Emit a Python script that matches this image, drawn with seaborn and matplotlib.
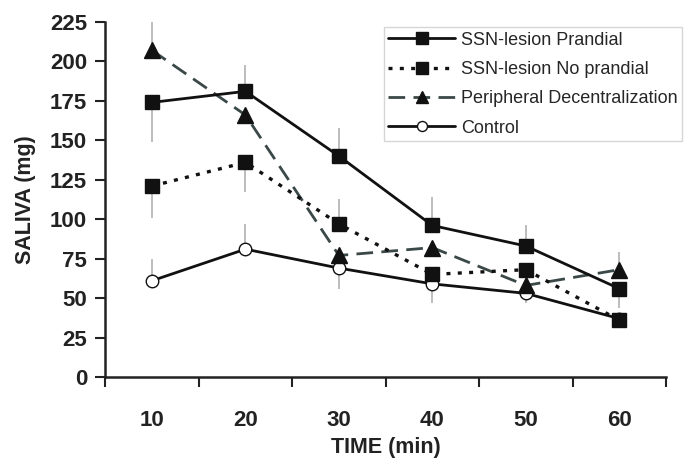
import numpy as np
import pandas as pd
import matplotlib
matplotlib.use("Agg")
import matplotlib.pyplot as plt
import seaborn as sns

# --- data ---
times = ["10", "20", "30", "40", "50", "60"]

prandial = [174, 181, 140, 96, 83, 56]
prandial_up = [0, 17, 18, 18, 13, 0]
prandial_down = [25, 0, 0, 0, 0, 12]

no_prandial = [121, 136, 97, 65, 68, 36]
no_prandial_up = [0, 0, 16, 0, 0, 0]
no_prandial_down = [20, 19, 0, 0, 0, 0]

peripheral = [207, 166, 77, 82, 58, 68]
peripheral_up = [25, 0, 0, 0, 0, 11]
peripheral_down = [0, 0, 0, 0, 0, 0]

control = [61, 81, 69, 59, 53, 37]
control_up = [14, 16, 0, 0, 0, 0]
control_down = [0, 0, 13, 12, 6, 0]

series = [
    ("SSN-lesion Prandial", prandial, prandial_up, prandial_down),
    ("SSN-lesion No prandial", no_prandial, no_prandial_up, no_prandial_down),
    ("Peripheral Decentralization", peripheral, peripheral_up, peripheral_down),
    ("Control", control, control_up, control_down),
]

styles = {
    "SSN-lesion Prandial": dict(color="#111111", marker="s", mfc="#111111", ms=10, dashes=None, lw=2.0, z=4),
    "SSN-lesion No prandial": dict(color="#111111", marker="s", mfc="#111111", ms=10, dashes=(1.2, 2.2), lw=2.4, z=4),
    "Peripheral Decentralization": dict(color="#3b4848", marker="^", mfc="#111111", ms=11, dashes=(6, 3), lw=2.0, z=3),
    "Control": dict(color="#111111", marker="o", mfc="white", ms=9, dashes=None, lw=2.0, z=2),
}

rows = []
for name, vals, up, down in series:
    for i, t in enumerate(times):
        rows.append({"Group": name, "pos": i, "Time": t, "Saliva": vals[i]})
df = pd.DataFrame(rows)

sns.set_style("ticks")
plt.rcParams["font.family"] = ["Liberation Sans", "DejaVu Sans"]

fig = plt.figure(figsize=(6.88, 4.66), dpi=100)
ax = fig.add_axes([0.153, 0.191, 0.815, 0.762])

# error bars (one-sided, light gray)
for name, vals, up, down in series:
    ax.errorbar(range(len(times)), vals, yerr=[down, up], fmt="none",
                ecolor="#b8b8b8", elinewidth=1.3, capsize=0, zorder=1)

for name, vals, up, down in series:
    st = styles[name]
    sub = df[df["Group"] == name]
    sns.lineplot(data=sub, x="pos", y="Saliva", ax=ax, color=st["color"],
                 linewidth=st["lw"], marker=st["marker"], markersize=st["ms"],
                 markerfacecolor=st["mfc"], markeredgecolor="#111111",
                 markeredgewidth=1.0, label=name, zorder=st["z"])
    line = ax.lines[-1]
    if st["dashes"] is not None:
        line.set_dashes(st["dashes"])

ax.set_xlim(-0.5, len(times) - 0.5)
ax.set_ylim(0, 225)
ax.set_yticks(np.arange(0, 226, 25))
ax.set_xticks(np.arange(len(times)))
ax.set_xticklabels(times)
ax.set_xticks(np.arange(-0.5, len(times), 1.0), minor=True)
ax.tick_params(axis="x", which="major", length=0, pad=24)
ax.tick_params(axis="x", which="minor", length=7, width=1.5, direction="out", color="#222222")
ax.tick_params(axis="y", length=7, width=1.5, direction="out", color="#222222", pad=6)
for lab in ax.get_xticklabels() + ax.get_yticklabels():
    lab.set_fontsize(16)
    lab.set_fontweight("bold")
    lab.set_color("#222222")

for sp in ["top", "right"]:
    ax.spines[sp].set_visible(False)
for sp in ["left", "bottom"]:
    ax.spines[sp].set_linewidth(1.8)
    ax.spines[sp].set_color("#222222")

ax.set_xlabel("TIME (min)", fontsize=15.5, fontweight="bold", color="#222222", labelpad=4)
ax.set_ylabel("SALIVA (mg)", fontsize=15.5, fontweight="bold", color="#222222", labelpad=10)

leg = ax.legend(loc="upper left", bbox_to_anchor=(0.497, 0.985), fontsize=13,
                frameon=True, fancybox=False, handlelength=3.7, handletextpad=0.3,
                labelspacing=0.68, borderpad=0.25, borderaxespad=0, markerscale=0.8)
leg.get_frame().set_edgecolor("#cccccc")
leg.get_frame().set_linewidth(1.0)

fig.savefig("out.png", dpi=100)
